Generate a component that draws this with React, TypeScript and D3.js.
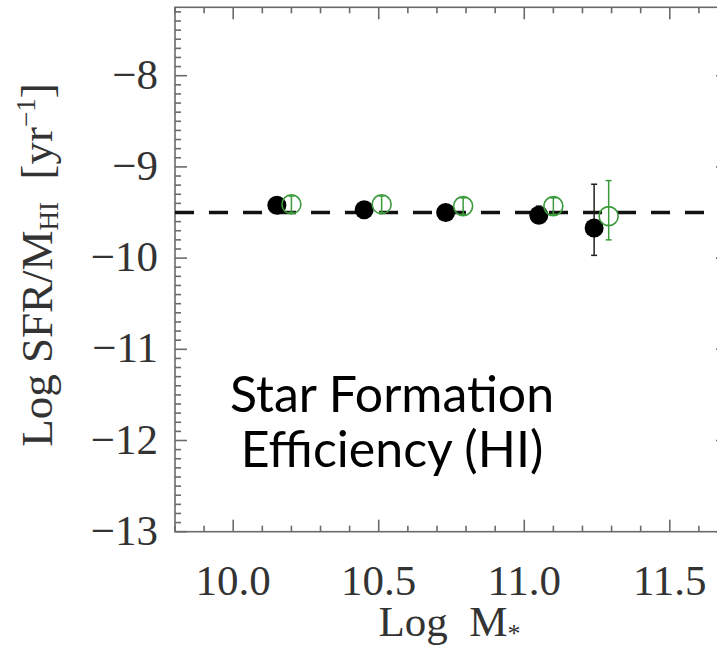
import React from "react";
import * as d3 from "d3";

// ---- data ----
const xTickValues = [10.0, 10.5, 11.0, 11.5];
const xTickLabels = ["10.0", "10.5", "11.0", "11.5"];
const yTickValues = [-8, -9, -10, -11, -12, -13];
const yTickLabels = ["−8", "−9", "−10", "−11", "−12", "−13"];

// filled black points
const blackX = [10.15, 10.45, 10.73, 11.05, 11.24];
const blackY = [-9.42, -9.47, -9.5, -9.53, -9.67];
const blackErrUp = [0.08, 0.08, 0.08, 0.1, 0.48];
const blackErrDown = [0.08, 0.08, 0.08, 0.08, 0.3];

// open green points
const greenX = [10.2, 10.51, 10.79, 11.1, 11.29];
const greenY = [-9.41, -9.41, -9.43, -9.43, -9.54];
const greenErrUp = [0.09, 0.09, 0.09, 0.09, 0.39];
const greenErrDown = [0.09, 0.09, 0.09, 0.09, 0.26];

const referenceLevel = -9.5;
const annotationLines = ["Star Formation", "Efficiency (HI)"];

const W = 717;
const H = 647;

export default function App() {
  const x = d3.scaleLinear().domain([9.8, 11.7]).range([175, 728]);
  const y = d3.scaleLinear().domain([-13, -7.25]).range([531.7, 7.3]);

  const [x0, x1] = x.range();
  const [yb, yt] = y.range();

  const xMinor = d3.range(98, 118).map((v) => v / 10);
  const yMinor = d3.range(-130, -72).map((v) => v / 10);

  const frameColor = "#6a6a6a";
  const green = "#3b9b3b";
  const textColor = "#333";
  const serif = "'Liberation Serif', 'Times New Roman', serif";
  const majorLen = 12;
  const minorLen = 6;

  const isMajorX = (v: number) => xTickValues.some((t) => Math.abs(t - v) < 1e-6);
  const isMajorY = (v: number) => yTickValues.some((t) => Math.abs(t - v) < 1e-6);

  const rBlack = 9.5;
  const rGreen = 9.5;
  const cap = 3;

  return (
    <svg
      width={W}
      height={H}
      style={{ position: "absolute", left: 0, top: 0, background: "#fff" }}
    >
      <rect x={0} y={0} width={W} height={H} fill="#fff" />
      {/* frame */}
      <rect
        x={x0}
        y={yt}
        width={x1 - x0}
        height={yb - yt}
        fill="none"
        stroke={frameColor}
        strokeWidth={1.6}
      />
      {/* x ticks (bottom & top) */}
      {xMinor.map((v, i) => {
        const len = isMajorX(v) ? majorLen : minorLen;
        const px = x(v);
        return (
          <g key={"xt" + i} stroke={frameColor} strokeWidth={1.6}>
            <line x1={px} x2={px} y1={yb} y2={yb - len} />
            <line x1={px} x2={px} y1={yt} y2={yt + len} />
          </g>
        );
      })}
      {/* y ticks (left & right) */}
      {yMinor.map((v, i) => {
        const len = isMajorY(v) ? majorLen : minorLen;
        const py = y(v);
        return (
          <g key={"yt" + i} stroke={frameColor} strokeWidth={1.6}>
            <line x1={x0} x2={x0 + len} y1={py} y2={py} />
            <line x1={x1} x2={x1 - len} y1={py} y2={py} />
          </g>
        );
      })}
      {/* x tick labels */}
      {xTickValues.map((v, i) => (
        <text
          key={"xl" + i}
          x={x(v)}
          y={595}
          textAnchor="middle"
          fontFamily={serif}
          fontSize={43}
          fill={textColor}
        >
          {xTickLabels[i]}
        </text>
      ))}
      {/* y tick labels */}
      {yTickValues.map((v, i) => (
        <text
          key={"yl" + i}
          x={158}
          y={y(v) + 13}
          textAnchor="end"
          fontFamily={serif}
          fontSize={43}
          fill={textColor}
        >
          {yTickLabels[i]}
        </text>
      ))}
      {/* x axis title */}
      <text
        x={(x0 + x1) / 2 - 2}
        y={636}
        textAnchor="middle"
        fontFamily={serif}
        fontSize={43}
        fill={textColor}
      >
        {"Log\u00a0\u00a0M"}
        <tspan fontSize={26} dy={6}>
          *
        </tspan>
      </text>
      {/* y axis title */}
      <text
        transform={`translate(52, 265) rotate(-90)`}
        textAnchor="middle"
        fontFamily={serif}
        fontSize={45}
        fill={textColor}
      >
        {"Log\u00a0SFR/M"}
        <tspan fontSize={27} dy={6}>
          HI
        </tspan>
        <tspan dy={-6}>{"\u00a0\u00a0[yr"}</tspan>
        <tspan fontSize={27} dy={-17}>
          −1
        </tspan>
        <tspan dy={17}>]</tspan>
      </text>

      {/* reference dashed line */}
      <line
        x1={x0}
        x2={x1}
        y1={y(referenceLevel)}
        y2={y(referenceLevel)}
        stroke="#111"
        strokeWidth={3.6}
        strokeDasharray="19,15"
      />

      {/* black filled points with error bars */}
      {blackX.map((v, i) => {
        const px = x(v);
        const yu = y(blackY[i] + blackErrUp[i]);
        const yd = y(blackY[i] - blackErrDown[i]);
        return (
          <g key={"b" + i}>
            <line x1={px} x2={px} y1={yu} y2={yd} stroke="#222" strokeWidth={1.5} />
            <line x1={px - cap} x2={px + cap} y1={yu} y2={yu} stroke="#222" strokeWidth={1.5} />
            <line x1={px - cap} x2={px + cap} y1={yd} y2={yd} stroke="#222" strokeWidth={1.5} />
            <circle cx={px} cy={y(blackY[i])} r={rBlack} fill="#000" />
          </g>
        );
      })}
      {/* green open points with error bars */}
      {greenX.map((v, i) => {
        const px = x(v);
        const yu = y(greenY[i] + greenErrUp[i]);
        const yd = y(greenY[i] - greenErrDown[i]);
        return (
          <g key={"g" + i}>
            <line x1={px} x2={px} y1={yu} y2={yd} stroke={green} strokeWidth={1.5} />
            <line x1={px - cap} x2={px + cap} y1={yu} y2={yu} stroke={green} strokeWidth={1.5} />
            <line x1={px - cap} x2={px + cap} y1={yd} y2={yd} stroke={green} strokeWidth={1.5} />
            <circle cx={px} cy={y(greenY[i])} r={rGreen} fill="none" stroke={green} strokeWidth={1.6} />
          </g>
        );
      })}

      {/* annotation */}
      {annotationLines.map((t, i) => (
        <text
          key={"a" + i}
          x={392}
          y={411.7 + i * 55}
          textAnchor="middle"
          fontFamily="Lato, 'Open Sans', sans-serif"
          fontSize={50}
          fill="#000"
        >
          {t}
        </text>
      ))}
    </svg>
  );
}
